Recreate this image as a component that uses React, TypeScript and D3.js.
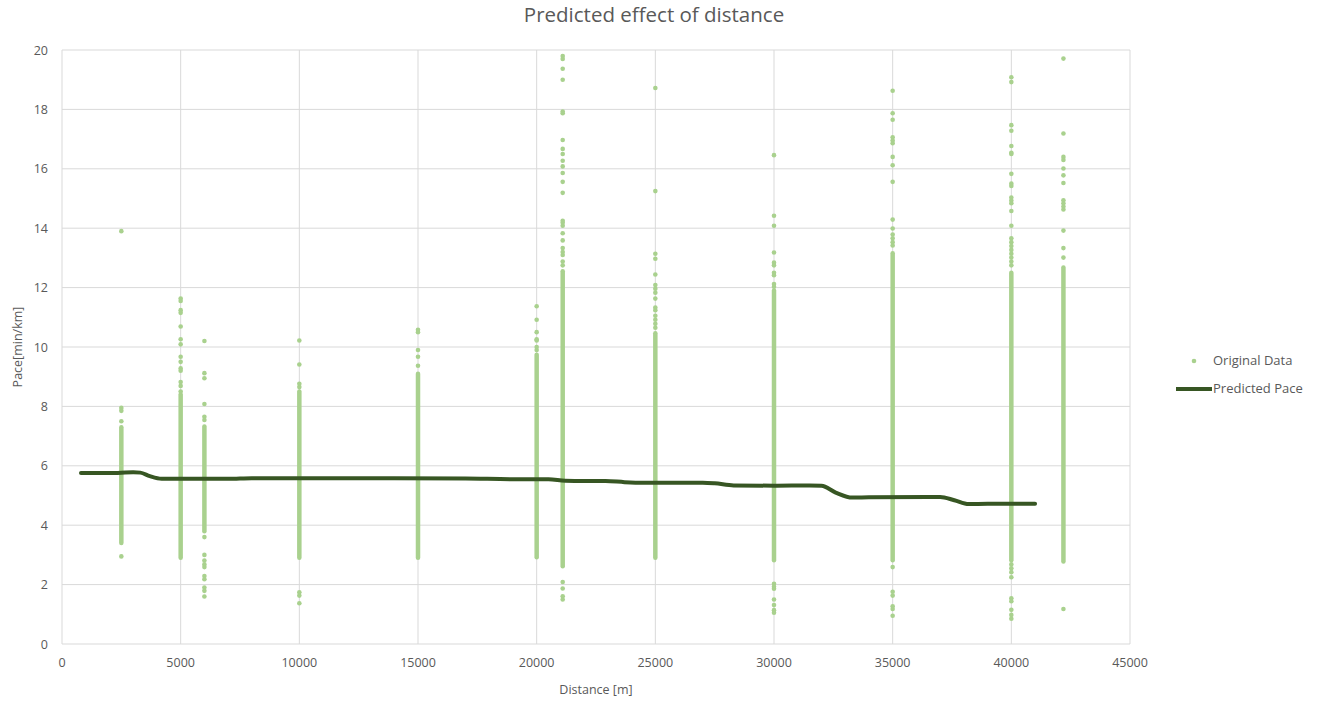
import React, { useEffect, useRef } from "react";
import * as d3 from "d3";

// race distances (m) where the original data points sit
const distances = [2500, 5000, 6000, 10000, 15000, 20000, 21097, 25000, 30000, 35000, 40000, 42195];

// dense part of each column, min / max pace (points packed so tight they form a bar)
const denseLow = [3.4, 2.9, 3.8, 2.9, 2.9, 2.92, 2.62, 2.9, 2.82, 2.82, 2.82, 2.78];
const denseHigh = [7.3, 8.4, 7.32, 8.5, 9.1, 9.74, 12.55, 10.46, 11.9, 13.16, 12.5, 12.68];

// scattered points outside the dense part, one list per column
const outliers = [
    [13.9, 7.95, 7.85, 7.5, 2.95],
    [11.63, 11.55, 11.24, 11.15, 10.69, 10.26, 10.09, 9.67, 9.5, 9.28, 9.2, 8.82, 8.69, 8.5],
    [10.2, 9.12, 8.95, 8.08, 7.65, 7.54, 3.6, 3.0, 2.81, 2.68, 2.59, 2.29, 2.18, 1.9, 1.79, 1.6],
    [10.22, 9.41, 8.76, 8.65, 1.74, 1.63, 1.37],
    [10.58, 10.5, 9.9, 9.67, 9.37],
    [11.37, 10.92, 10.5, 10.26, 10.22, 10.0, 9.9],
    [19.8, 19.7, 19.37, 19.0, 17.93, 17.87, 16.97, 16.67, 16.5, 16.27, 16.08, 15.86, 15.56, 15.19,
        14.25, 14.18, 14.08, 13.83, 13.59, 13.33, 13.2, 13.1, 12.88, 12.75, 2.09, 1.87, 1.61, 1.5],
    [18.72, 15.25, 13.14, 12.97, 12.44, 12.09, 11.96, 11.83, 11.63, 11.33, 11.24, 11.05, 10.92, 10.78, 10.65],
    [16.46, 14.42, 14.08, 13.18, 12.84, 12.75, 12.5, 12.42, 12.12, 12.03, 2.03, 1.93, 1.86, 1.5, 1.31, 1.14, 1.05],
    [18.63, 17.87, 17.65, 17.06, 16.95, 16.86, 16.4, 16.12, 15.56, 14.29, 13.99, 13.79, 13.66, 13.53, 13.42,
        2.59, 1.76, 1.63, 1.27, 1.18, 0.95],
    [19.08, 18.92, 17.47, 17.28, 16.77, 16.54, 16.5, 15.83, 15.5, 15.42, 15.03, 14.93, 14.84, 14.58, 14.08,
        13.66, 13.53, 13.4, 13.27, 13.14, 13.01, 12.88, 12.75, 2.68, 2.55, 2.42, 2.25, 1.54, 1.44, 1.15, 0.98, 0.85],
    [19.71, 17.19, 16.4, 16.3, 16.01, 15.78, 15.52, 14.94, 14.84, 14.73, 14.63, 13.92, 13.33, 13.01, 1.18],
];

// predicted pace curve
const predDistance = [800, 2000, 3000, 3300, 3700, 4200, 5000, 7000, 8000, 12000, 17000, 19000, 20500, 21200,
    22000, 22900, 23700, 24500, 27000, 27500, 28300, 30000, 31500, 32000, 32600, 33300, 34000, 36500, 37000,
    37600, 38200, 39000, 41000];
const predPace = [5.76, 5.76, 5.78, 5.77, 5.65, 5.56, 5.56, 5.56, 5.58, 5.58, 5.57, 5.55, 5.55, 5.5,
    5.49, 5.49, 5.45, 5.43, 5.43, 5.41, 5.34, 5.33, 5.34, 5.33, 5.1, 4.93, 4.94, 4.95, 4.95,
    4.84, 4.71, 4.72, 4.72];

const xTicks = [0, 5000, 10000, 15000, 20000, 25000, 30000, 35000, 40000, 45000];
const yTicks = [0, 2, 4, 6, 8, 10, 12, 14, 16, 18, 20];

const App = () => {
    const ref = useRef<SVGSVGElement>(null);

    useEffect(() => {
        const svg = d3.select(ref.current);
        svg.selectAll("*").remove();

        const font = "'Open Sans', 'Segoe UI', sans-serif";
        const textColor = "#595959";
        const dotColor = "#a9d18e";
        const lineColor = "#375623";

        const margin = { top: 50, left: 62 };
        const width = 1068;
        const height = 594;

        const x = d3.scaleLinear().domain([0, 45000]).range([0, width]);
        const y = d3.scaleLinear().domain([0, 20]).range([height, 0]);

        const g = svg.append("g").attr("transform", `translate(${margin.left},${margin.top})`);

        // gridlines
        g.selectAll(".hgrid")
            .data(yTicks)
            .enter().append("line")
            .attr("x1", 0)
            .attr("x2", width)
            .attr("y1", d => y(d))
            .attr("y2", d => y(d))
            .attr("stroke", "#d9d9d9")
            .attr("stroke-width", 1);

        g.selectAll(".vgrid")
            .data(xTicks)
            .enter().append("line")
            .attr("x1", d => x(d))
            .attr("x2", d => x(d))
            .attr("y1", 0)
            .attr("y2", height)
            .attr("stroke", "#d9d9d9")
            .attr("stroke-width", 1);

        // tick labels
        g.selectAll(".ylab")
            .data(yTicks)
            .enter().append("text")
            .attr("x", -14)
            .attr("y", d => y(d) + 4.5)
            .attr("text-anchor", "end")
            .attr("fill", textColor)
            .attr("font-family", font)
            .attr("font-size", "12.5px")
            .text(d => d);

        g.selectAll(".xlab")
            .data(xTicks)
            .enter().append("text")
            .attr("x", d => x(d))
            .attr("y", height + 23)
            .attr("text-anchor", "middle")
            .attr("fill", textColor)
            .attr("font-family", font)
            .attr("font-size", "12.5px")
            .text(d => d);

        // dense parts of each column
        g.selectAll(".dense")
            .data(distances)
            .enter().append("line")
            .attr("x1", d => x(d))
            .attr("x2", d => x(d))
            .attr("y1", (d, i) => y(denseLow[i]))
            .attr("y2", (d, i) => y(denseHigh[i]))
            .attr("stroke", dotColor)
            .attr("stroke-width", 4.5)
            .attr("stroke-linecap", "round");

        // scattered points
        const pts = distances.flatMap((d, i) => outliers[i].map(v => ({ d, v })));
        g.selectAll(".dot")
            .data(pts)
            .enter().append("circle")
            .attr("cx", p => x(p.d))
            .attr("cy", p => y(p.v))
            .attr("r", 2.3)
            .attr("fill", dotColor);

        // predicted pace
        const line = d3.line<number>()
            .x((d, i) => x(predDistance[i]))
            .y(d => y(d))
            .curve(d3.curveMonotoneX);

        g.append("path")
            .datum(predPace)
            .attr("d", line)
            .attr("fill", "none")
            .attr("stroke", lineColor)
            .attr("stroke-width", 4)
            .attr("stroke-linecap", "round");

        // title
        svg.append("text")
            .attr("x", 654)
            .attr("y", 22)
            .attr("text-anchor", "middle")
            .attr("fill", textColor)
            .attr("font-family", font)
            .attr("font-size", "20.5px")
            .text("Predicted effect of distance");

        // axis titles
        svg.append("text")
            .attr("x", margin.left + width / 2)
            .attr("y", 694)
            .attr("text-anchor", "middle")
            .attr("fill", textColor)
            .attr("font-family", font)
            .attr("font-size", "12.5px")
            .text("Distance [m]");

        svg.append("text")
            .attr("transform", `translate(22, ${margin.top + height / 2}) rotate(-90)`)
            .attr("text-anchor", "middle")
            .attr("fill", textColor)
            .attr("font-family", font)
            .attr("font-size", "12.5px")
            .text("Pace[min/km]");

        // legend
        svg.append("circle")
            .attr("cx", 1194)
            .attr("cy", 361)
            .attr("r", 2.3)
            .attr("fill", dotColor);
        svg.append("text")
            .attr("x", 1213)
            .attr("y", 365)
            .attr("fill", textColor)
            .attr("font-family", font)
            .attr("font-size", "13px")
            .text("Original Data");

        svg.append("line")
            .attr("x1", 1176)
            .attr("x2", 1212)
            .attr("y1", 389)
            .attr("y2", 389)
            .attr("stroke", lineColor)
            .attr("stroke-width", 4);
        svg.append("text")
            .attr("x", 1213)
            .attr("y", 393)
            .attr("fill", textColor)
            .attr("font-family", font)
            .attr("font-size", "13px")
            .text("Predicted Pace");
    }, []);

    return (
        <svg
            ref={ref}
            width={1322}
            height={702}
            style={{ position: "absolute", left: 0, top: 0, background: "#ffffff" }}
        />
    );
};

export default App;
